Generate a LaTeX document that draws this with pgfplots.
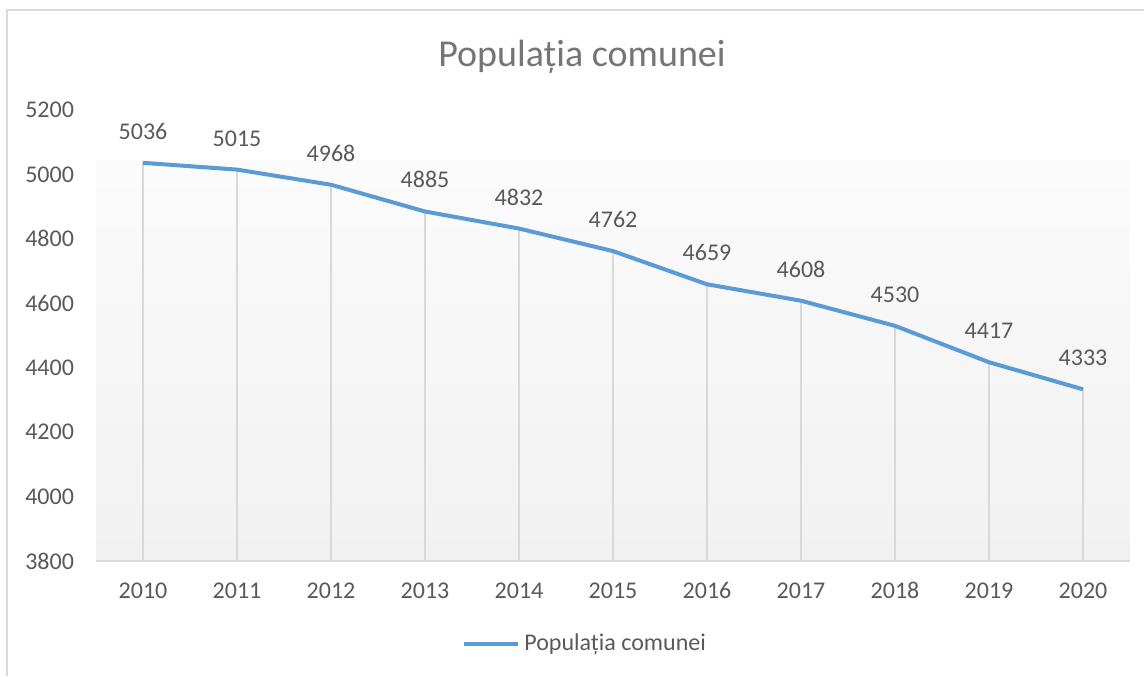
\documentclass[border=0pt]{standalone}
\usepackage{pgfplots}
\pgfplotsset{compat=1.18}
\usepackage{fontspec}
\setmainfont{Carlito}

\definecolor{serie}{HTML}{5B9BD5}
\definecolor{txt}{HTML}{595959}
\definecolor{titlu}{HTML}{757575}
\definecolor{linii}{HTML}{D9D9D9}

\pgfplotstableread{
an    pop
2010  5036
2011  5015
2012  4968
2013  4885
2014  4832
2015  4762
2016  4659
2017  4608
2018  4530
2019  4417
2020  4333
}\populatia

\begin{document}
\begin{tikzpicture}
\useasboundingbox (0,0) rectangle (572pt,338pt);
% chenarul graficului (doar sus si stanga se vad)
\draw[linii, line width=0.8pt] (3.5pt,0) -- (3.5pt,333pt) -- (572pt,333pt);

\node[anchor=base, font=\fontsize{19}{23}\selectfont, text=titlu, inner sep=0pt]
  at (291pt,304.5pt) {Populația comunei};

\begin{axis}[name=ax,
  at={(48pt,57.5pt)}, anchor=south west,
  scale only axis, width=517pt, height=225.5pt,
  xmin=2009.5, xmax=2020.5, ymin=3800, ymax=5200,
  xtick={2010,2011,...,2020}, ytick={3800,4000,...,5200},
  axis line style={draw=none}, major tick length=0pt,
  /pgf/number format/1000 sep={},
  /pgf/number format/assume math mode=true,
  tick label style={font=\fontsize{12}{14}\selectfont, text=txt},
  xticklabel style={anchor=base, yshift=-18.5pt},
  yticklabel style={anchor=east, xshift=-7.5pt},
  legend style={at={(0.474,-0.184)}, anchor=center, draw=none, fill=none,
    font=\fontsize{12}{14}\selectfont, text=txt},
  legend image code/.code={\draw[#1, line width=2pt] (0pt,0pt) -- (27pt,0pt);},
]
\shade[top color=black!1.5, bottom color=black!5.5]
  (axis cs:2009.5,3800) rectangle (axis cs:2020.5,5042);
\addplot[ycomb, draw=linii, line width=0.8pt, forget plot] table[x=an, y=pop] {\populatia};
\addplot[serie, line width=2pt, no marks,
  nodes near coords,
  every node near coord/.append style={anchor=base, yshift=11.75pt,
    font=\fontsize{12}{14}\selectfont, text=txt, inner sep=0pt}]
  table[x=an, y=pop] {\populatia};
\addlegendentry{Populația comunei}
\end{axis}
\draw[linii, line width=1pt] (ax.south west) -- (ax.south east);
\end{tikzpicture}
\end{document}
